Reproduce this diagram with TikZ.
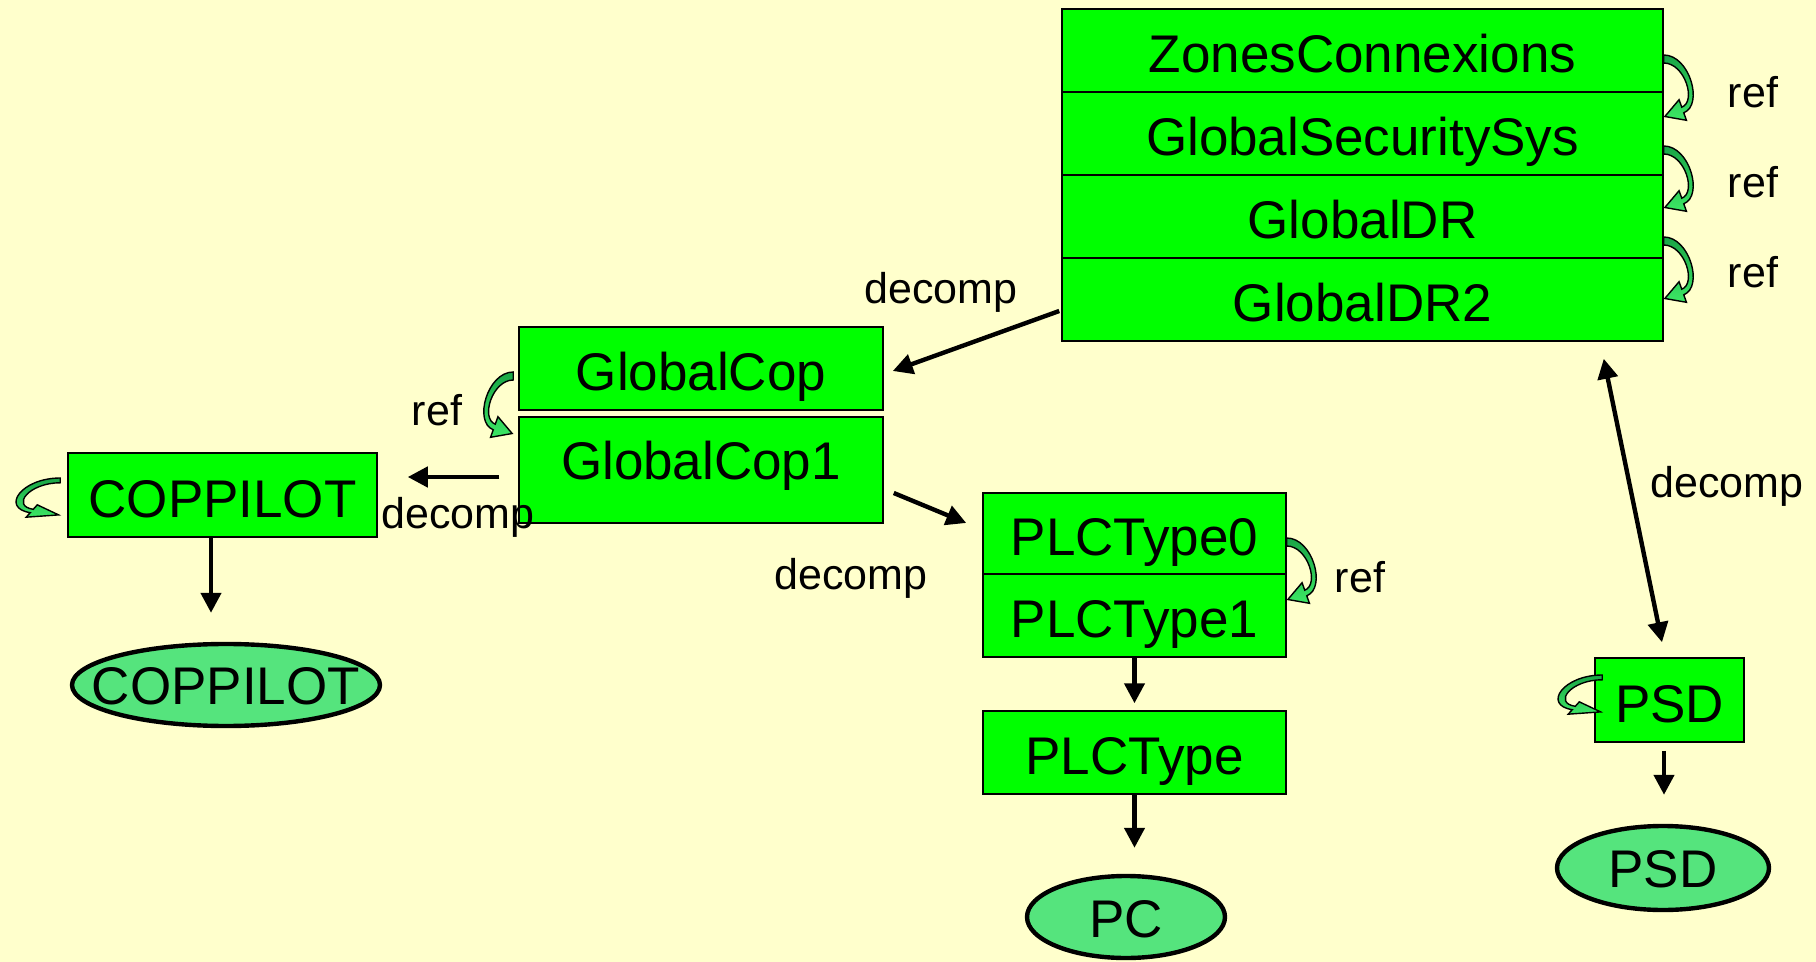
\documentclass[tikz,border=0pt]{standalone}
\usepackage{fontspec}
\setmainfont{Liberation Sans}
\usetikzlibrary{arrows.meta,shapes.geometric}

\definecolor{paper}{RGB}{255,255,204}
\definecolor{boxgreen}{RGB}{0,255,0}
\definecolor{leafgreen}{RGB}{85,228,125}
\definecolor{loopdark}{RGB}{25,165,70}
\definecolor{looplight}{RGB}{60,230,100}

\tikzset{
  box/.style={draw=black, line width=0.75pt, fill=boxgreen, inner sep=0pt,
    text height=22pt, text depth=0pt, font=\fontsize{26.5}{30}\selectfont},
  leaf/.style={ellipse, draw=black, line width=2.2pt, fill=leafgreen, inner sep=0pt},
  leaftext/.style={inner sep=0pt, text height=19pt, text depth=0pt,
    font=\fontsize{26.5}{30}\selectfont},
  lbl/.style={inner sep=0pt, font=\fontsize{21.5}{24}\selectfont},
  link/.style={line width=2.2pt, -{Triangle[length=10pt,width=10pt]}},
  dlink/.style={line width=2.2pt, {Triangle[length=10pt,width=10pt]}-{Triangle[length=10pt,width=10pt]}},
  % curved block arrow from one row to the next (origin = start of the band)
  refloop/.pic={
    \path[draw=black, line width=0.7pt, top color=loopdark, bottom color=looplight]
      (0,0) .. controls (26,0) and (40,50) .. (20,57.8)
      -- (22.7,65.3) -- (1.1,61.5) -- (15.3,44.7) -- (18,52.2)
      .. controls (33,46.5) and (21,8) .. (0,8) -- cycle;
  }
}

\begin{document}
\begin{tikzpicture}[x=0.5pt,y=-0.5pt]
\fill[paper] (0,0) rectangle (1816,962);
\useasboundingbox (0,0) rectangle (1816,962);

% stacked block at the top right
\node[box, minimum width=300.5pt, minimum height=41.5pt] (zc)   at (1362.5,50.5)  {ZonesConnexions};
\node[box, minimum width=300.5pt, minimum height=41.5pt] (gss)  at (1362.5,133.5) {GlobalSecuritySys};
\node[box, minimum width=300.5pt, minimum height=41.5pt] (gdr)  at (1362.5,216.5) {GlobalDR};
\node[box, minimum width=300.5pt, minimum height=41.5pt] (gdr2) at (1362.5,299.5) {GlobalDR2};

% GlobalCop pair
\node[box, minimum width=182pt, minimum height=41.5pt] (gcop) at (701,368.5) {GlobalCop};
\node[box, minimum width=182pt, minimum height=53pt,
      label={[leaftext, yshift=4.5pt]center:GlobalCop1}] (gcop1) at (701,470) {};

% COPPILOT branch
\node[box, minimum width=154.5pt, minimum height=42pt] (cop) at (222.5,495) {COPPILOT};
\node[leaf, minimum width=154pt, minimum height=41pt,
      label={[leaftext]center:COPPILOT}] (copE) at (226,685) {};

% PLC branch
\node[box, minimum width=151.5pt, minimum height=40.5pt] (plc0) at (1134.5,533.5) {PLCType0};
\node[box, minimum width=151.5pt, minimum height=41.5pt] (plc1) at (1134.5,615.5) {PLCType1};
\node[box, minimum width=151.5pt, minimum height=41.5pt] (plct) at (1134.5,752.5) {PLCType};
\node[leaf, minimum width=99pt, minimum height=41pt,
      label={[leaftext, yshift=-0.75pt]center:PC}] (pcE) at (1126,917) {};

% PSD branch
\node[box, minimum width=74.5pt, minimum height=42pt] (psd) at (1669.5,700) {PSD};
\node[leaf, minimum width=106pt, minimum height=42pt,
      label={[leaftext]center:PSD}] (psdE) at (1663,868) {};

% decomposition links
\draw[link] ([xshift=-1pt,yshift=-5.75pt]gdr2.west) -- ([xshift=4.5pt,yshift=-1.25pt]gcop.east);
\draw[link] ([xshift=-9.5pt,yshift=-3.5pt]gcop1.west) -- ([xshift=15pt,yshift=9pt]cop.east);
\draw[link] ([xshift=5pt,yshift=-11.5pt]gcop1.east) -- ([xshift=-8pt,yshift=5.25pt]plc0.west);
\draw[dlink] ([xshift=-30pt,yshift=-8.5pt]gdr2.south east) -- ([xshift=-3.75pt,yshift=7.5pt]psd.north);

% instance links
\draw[link] ([xshift=-5.75pt]cop.south) -- ([xshift=-7.5pt,yshift=14.5pt]copE.north);
\draw[link] (plc1.south) -- ([yshift=3.5pt]plct.north);
\draw[link] (plct.south) -- ([xshift=4.25pt,yshift=13pt]pcE.north);
\draw[link] ([xshift=-2.75pt,yshift=-4pt]psd.south) -- ([xshift=0.5pt,yshift=14.5pt]psdE.north);

% reference loops
\pic at ([yshift=-2.25pt]zc.east) {refloop};
\pic at ([yshift=-6.25pt]gss.east) {refloop};
\pic at ([yshift=-10.25pt]gdr.east) {refloop};
\pic at ([yshift=-2.25pt]plc0.east) {refloop};
\pic[xscale=-1] at ([xshift=-2.5pt,yshift=-1.75pt]gcop.west) {refloop};
\pic[xscale=-1.5,yscale=0.6] at ([xshift=-3.5pt,yshift=8.5pt]cop.west) {refloop};
\pic[xscale=-1.5,yscale=0.6] at ([xshift=4pt,yshift=12.5pt]psd.west) {refloop};

% labels
\node[lbl] (l1) at (941,292) {decomp};
\node[lbl] (l2) at (458,517) {decomp};
\node[lbl] (l3) at (851,578) {decomp};
\node[lbl] (l4) at (1727,486) {decomp};
\node[lbl] (r1) at (1753,92)  {ref};
\node[lbl] (r2) at (1753,182) {ref};
\node[lbl] (r3) at (1753,272) {ref};
\node[lbl] (r4) at (1360,577) {ref};
\node[lbl] (r5) at (437,410)  {ref};
\end{tikzpicture}
\end{document}
